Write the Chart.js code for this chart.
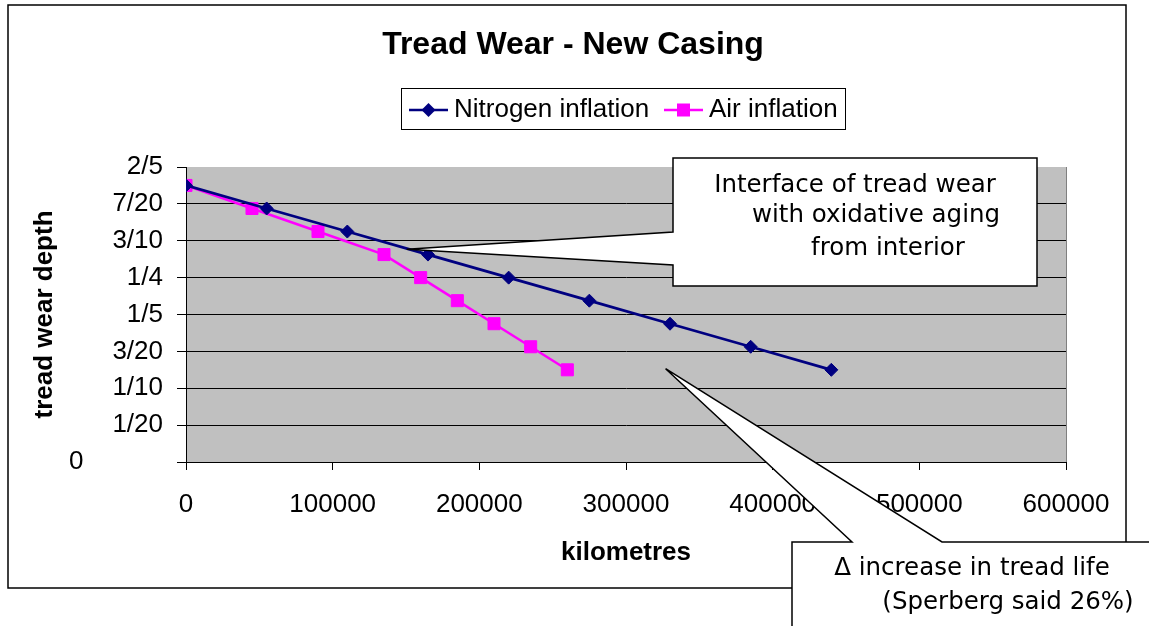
<!DOCTYPE html>
<html>
<head>
<meta charset="utf-8">
<title>Tread Wear - New Casing</title>
<script src="https://cdn.jsdelivr.net/npm/chart.js@4.4.0/dist/chart.umd.min.js"></script>
<style>
  html, body { margin: 0; padding: 0; background: #fff; }
  #wrap { position: relative; width: 1149px; height: 626px; }
</style>
</head>
<body>
<div id="wrap"><canvas id="c1"></canvas></div>
<script>
// Tread wear chart — Chart.js
Chart.defaults.font.family = "'Liberation Sans', Arial, sans-serif";
Chart.defaults.color = '#000';

const NITROGEN_KM    = [0, 55000, 110000, 165000, 220000, 275000, 330000, 385000, 440000];
const NITROGEN_DEPTH = [0.375, 0.34375, 0.3125, 0.28125, 0.25, 0.21875, 0.1875, 0.15625, 0.125];
const AIR_KM         = [0, 45000, 90000, 135000, 160000, 185000, 210000, 235000, 260000];
const AIR_DEPTH      = [0.375, 0.34375, 0.3125, 0.28125, 0.25, 0.21875, 0.1875, 0.15625, 0.125];

const Y_TICK_LABELS = ['0', '1/20', '1/10', '3/20', '1/5', '1/4', '3/10', '7/20', '2/5'];
const X_TICKS = [0, 100000, 200000, 300000, 400000, 500000, 600000];

const CHART_TITLE = 'Tread Wear - New Casing';
const NOTE_INTERFACE = ['Interface of tread wear', 'with oxidative aging', 'from interior'];
const NOTE_LIFE = ['\u0394 increase in tread life', '(Sperberg said 26%)'];

const COLORS = {
  navy: '#000080',
  magenta: '#FF00FF',
  plot: '#C0C0C0',
  edge: '#808080',
};

const toPoints = (xs, ys) => xs.map((x, i) => ({ x, y: ys[i] }));

// background, outer frame and grey plot area
const framePlugin = {
  id: 'frame',
  beforeDraw(chart) {
    const { ctx, chartArea: a } = chart;
    ctx.save();
    ctx.fillStyle = '#fff';
    ctx.fillRect(0, 0, chart.width, chart.height);
    ctx.strokeStyle = '#000';
    ctx.lineWidth = 1.5;
    ctx.strokeRect(8, 5, 1118, 583);
    ctx.fillStyle = COLORS.plot;
    ctx.fillRect(a.left, a.top, a.right - a.left, a.bottom - a.top);
    ctx.strokeStyle = COLORS.edge;
    ctx.lineWidth = 1;
    ctx.beginPath();
    ctx.moveTo(a.right + 0.5, a.top);
    ctx.lineTo(a.right + 0.5, a.bottom);
    ctx.stroke();
    ctx.restore();
  },
};

function marker(ctx, style, x, y, color) {
  ctx.fillStyle = color;
  ctx.beginPath();
  if (style === 'rect') {
    ctx.rect(x - 6.5, y - 6.5, 13, 13);
  } else {
    ctx.moveTo(x - 7, y); ctx.lineTo(x, y - 7); ctx.lineTo(x + 7, y); ctx.lineTo(x, y + 7);
    ctx.closePath();
  }
  ctx.fill();
}

function callout(ctx, pts, lines, font, pos) {
  ctx.save();
  ctx.beginPath();
  ctx.moveTo(pts[0][0], pts[0][1]);
  pts.slice(1).forEach(p => ctx.lineTo(p[0], p[1]));
  ctx.closePath();
  ctx.fillStyle = '#fff';
  ctx.fill();
  ctx.strokeStyle = '#000';
  ctx.lineWidth = 1.5;
  ctx.stroke();
  ctx.fillStyle = '#000';
  ctx.font = font;
  ctx.textAlign = 'center';
  ctx.textBaseline = 'middle';
  lines.forEach((t, i) => ctx.fillText(t, pos[i][0], pos[i][1]));
  ctx.restore();
}

// title, legend box and the two text callouts
const notesPlugin = {
  id: 'notes',
  afterDraw(chart) {
    const { ctx, scales: { x, y } } = chart;
    const ds = chart.data.datasets;

    ctx.save();
    ctx.fillStyle = '#000';
    ctx.font = "bold 32px 'Liberation Sans', Arial, sans-serif";
    ctx.textAlign = 'center';
    ctx.textBaseline = 'middle';
    ctx.fillText(CHART_TITLE, 573, 45);

    ctx.strokeStyle = '#000';
    ctx.lineWidth = 1;
    ctx.strokeRect(401.5, 88.5, 444, 41);
    ctx.font = "26px 'Liberation Sans', Arial, sans-serif";
    ctx.textAlign = 'left';
    [[409, 454], [664, 709]].forEach(([lx, tx], i) => {
      ctx.strokeStyle = ds[i].borderColor;
      ctx.lineWidth = 2.5;
      ctx.beginPath();
      ctx.moveTo(lx, 110); ctx.lineTo(lx + 39, 110);
      ctx.stroke();
      marker(ctx, ds[i].pointStyle, lx + 19.5, 110, ds[i].borderColor);
      ctx.fillStyle = '#000';
      ctx.fillText(ds[i].label, tx, 110);
    });
    ctx.restore();

    const tip1x = x.getPixelForValue(150500), tip1y = y.getPixelForValue(0.2885);
    callout(ctx,
      [[673, 158], [1037, 158], [1037, 286], [673, 286], [673, 265], [tip1x, tip1y], [673, 232]],
      NOTE_INTERFACE, "24.5px 'DejaVu Sans', Tahoma, sans-serif",
      [[855, 186], [876, 216], [888, 249]]);

    const tip2x = x.getPixelForValue(327000), tip2y = y.getPixelForValue(0.1265);
    callout(ctx,
      [[792, 542], [852, 542], [tip2x, tip2y], [942, 542], [1160, 542], [1160, 640], [792, 640]],
      NOTE_LIFE, "24.5px 'DejaVu Sans', Tahoma, sans-serif",
      [[972, 569], [1008, 603]]);
  },
};

new Chart(document.getElementById('c1'), {
  type: 'line',
  data: {
    datasets: [
      {
        label: 'Nitrogen inflation',
        data: toPoints(NITROGEN_KM, NITROGEN_DEPTH),
        borderColor: COLORS.navy,
        backgroundColor: COLORS.navy,
        borderWidth: 2.75,
        pointStyle: 'rectRot',
        pointRadius: 6.5,
        pointBorderWidth: 1,
      },
      {
        label: 'Air inflation',
        data: toPoints(AIR_KM, AIR_DEPTH),
        borderColor: COLORS.magenta,
        backgroundColor: COLORS.magenta,
        borderWidth: 2.5,
        pointStyle: 'rect',
        pointRadius: 8.5,
        pointBorderWidth: 1,
      },
    ],
  },
  options: {
    responsive: true, maintainAspectRatio: false,
    animation: false,
    layout: { padding: { top: 167, left: 0, right: 83, bottom: 0 } },
    plugins: {
      legend: { display: false },
      tooltip: { enabled: false },
      title: { display: false },
    },
    scales: {
      x: {
        type: 'linear',
        min: 0, max: 600000,
        afterFit: s => { s.height = 164; },
        afterBuildTicks: s => { s.ticks = X_TICKS.map(v => ({ value: v })); },
        ticks: { font: { size: 26 }, padding: 19, maxRotation: 0, callback: v => String(v) },
        grid: { drawOnChartArea: false, tickLength: 8, color: '#000' },
        border: { color: '#000', width: 1 },
        title: { display: true, text: 'kilometres', font: { size: 26, weight: 'bold' }, padding: { top: 0, bottom: 58 } },
      },
      y: {
        type: 'linear',
        min: 0, max: 0.4,
        afterFit: s => { s.width = 186; },
        ticks: {
          stepSize: 0.05,
          font: { size: 26 },
          padding: 14,
          callback: (v, i) => i === 0 ? Y_TICK_LABELS[0] + ' '.repeat(11) : Y_TICK_LABELS[i],
        },
        grid: {
          tickLength: 9,
          color: c => (c.tick && c.tick.value >= 0.399) ? 'rgba(0,0,0,0)' : '#000',
          tickColor: '#000',
        },
        border: { color: '#000', width: 1 },
        title: { display: true, text: 'tread wear depth', font: { size: 26, weight: 'bold' }, padding: { top: 29, bottom: 0 } },
      },
    },
  },
  plugins: [framePlugin, notesPlugin],
});
</script>
</body>
</html>
